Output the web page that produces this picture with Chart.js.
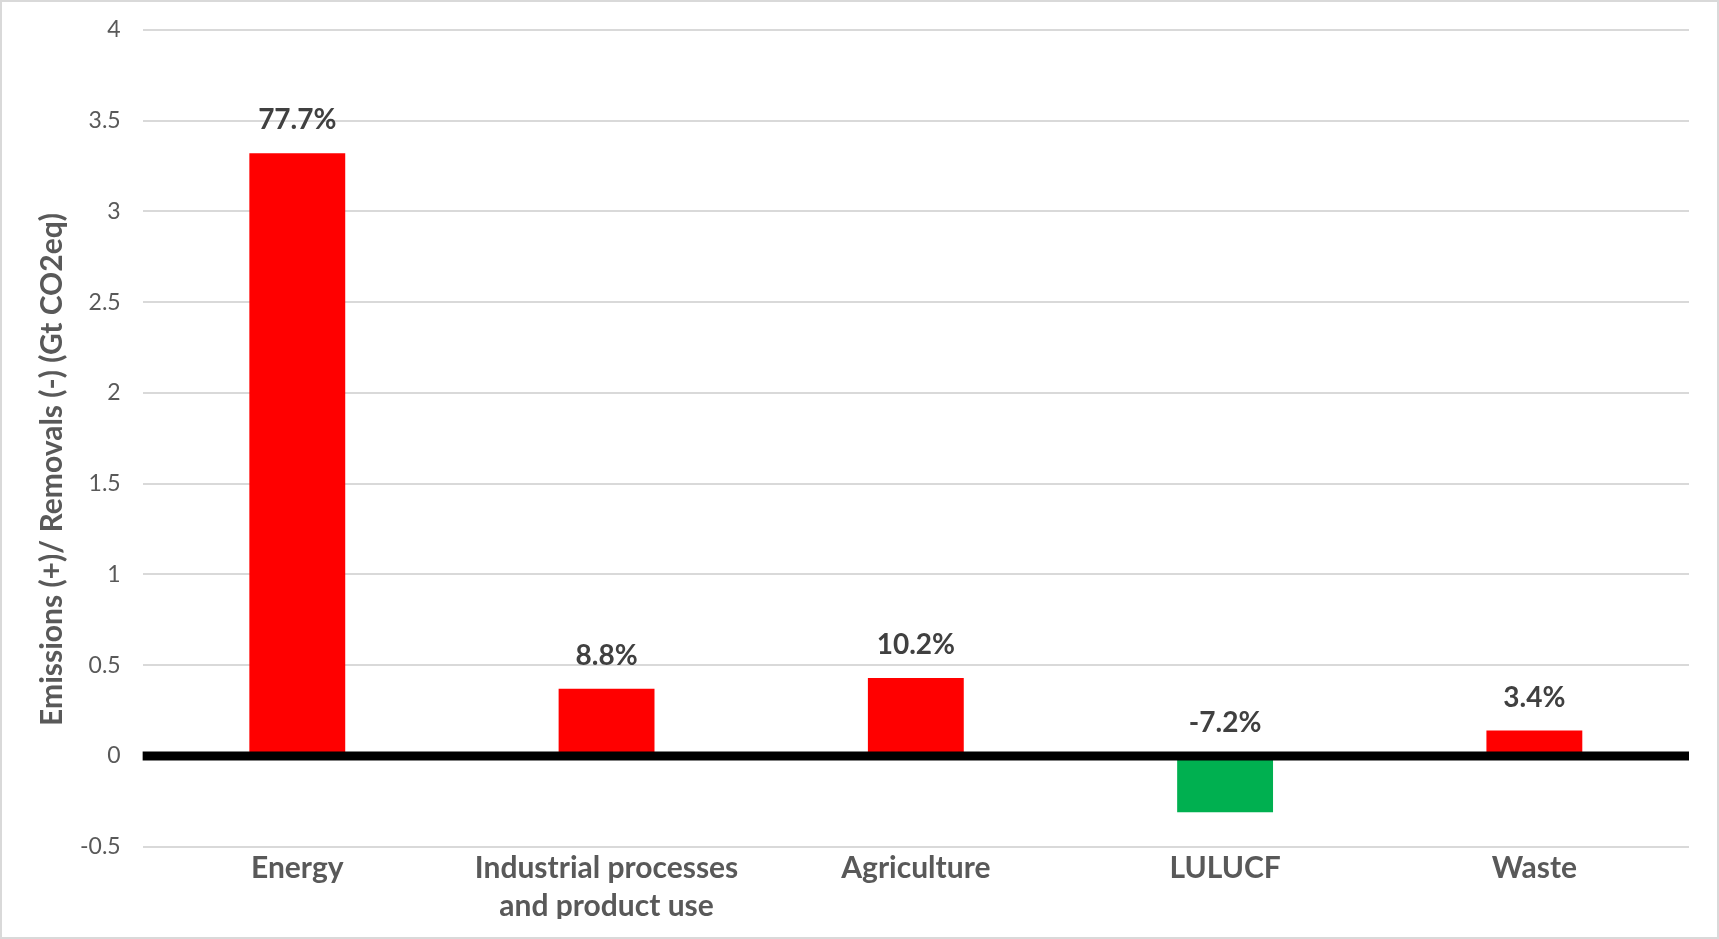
<!DOCTYPE html>
<html>
<head>
<meta charset="utf-8">
<script src="https://cdn.jsdelivr.net/npm/chart.js@4"></script>
<style>
  html, body { margin: 0; padding: 0; background: #fff; }
  #wrap { width: 1719px; height: 939px; box-sizing: border-box; border: 2px solid #d9d9d9; }
</style>
</head>
<body>
<div id="wrap"><canvas id="myChart"></canvas></div>
<script>
// données
var categories = ["Energy", ["Industrial processes", "and product use"], "Agriculture", "LULUCF", "Waste"];
var values = [3.32, 0.37, 0.43, -0.31, 0.14];
var shareLabels = ["77.7%", "8.8%", "10.2%", "-7.2%", "3.4%"];
var barColors = ["#ff0000", "#ff0000", "#ff0000", "#00b050", "#ff0000"];
var yTitle = "Emissions (+)/ Removals (-) (Gt CO2eq)";

var fontFamily = "Lato, 'Liberation Sans', sans-serif";

/**
 * ligne zéro noire + étiquettes au-dessus des barres + titre de l'axe y
 */
var zeroAndLabels = {
    id: 'zeroAndLabels',
    afterDatasetsDraw: function(chart) {
        var ctx = chart.ctx;
        var area = chart.chartArea;
        var y0 = chart.scales.y.getPixelForValue(0);

        // axe zéro épais par-dessus les barres
        ctx.save();
        ctx.strokeStyle = '#000';
        ctx.lineWidth = 9;
        ctx.beginPath();
        ctx.moveTo(area.left, y0);
        ctx.lineTo(area.right, y0);
        ctx.stroke();

        // étiquettes en pourcentage
        ctx.fillStyle = '#404040';
        ctx.font = "bold 28px " + fontFamily;
        ctx.textAlign = 'center';
        ctx.textBaseline = 'middle';
        chart.getDatasetMeta(0).data.forEach(function(bar, i) {
            var top = Math.min(bar.y, y0);
            ctx.fillText(shareLabels[i], bar.x, top - 33);
        });

        // titre vertical, centré sur la hauteur du graphique (comme Excel)
        ctx.fillStyle = '#595959';
        ctx.font = "bold 30px " + fontFamily;
        ctx.translate(50, chart.height / 2);
        ctx.rotate(-Math.PI / 2);
        ctx.fillText(yTitle, 0, 0);
        ctx.restore();
    }
};

var canvas = document.getElementById("myChart");
var ctx = canvas.getContext('2d');

var myChart = new Chart(ctx, {
    type: 'bar',
    data: {
        labels: categories,
        datasets: [{
            data: values,
            backgroundColor: barColors,
            borderWidth: 0,
            categoryPercentage: 1,
            barPercentage: 0.31
        }]
    },
    options: {
        responsive: true,
        maintainAspectRatio: false,
        animation: false,
        layout: { padding: { top: 0, right: 28, bottom: 18, left: 56 } },
        plugins: {
            legend: { display: false },
            tooltip: { enabled: false }
        },
        scales: {
            x: {
                grid: { display: false },
                border: { display: false },
                ticks: {
                    color: '#595959',
                    padding: -6,
                    font: { family: fontFamily, size: 30, weight: 'bold', lineHeight: 1.27 }
                }
            },
            y: {
                min: -0.5,
                max: 4,
                border: { display: false },
                grid: { color: '#d9d9d9', lineWidth: 2, drawTicks: false },
                ticks: {
                    stepSize: 0.5,
                    color: '#595959',
                    padding: 22,
                    // petite hauteur de ligne : le haut du graphique colle au cadre comme dans l'original
                    font: { family: fontFamily, size: 23, lineHeight: 0.5 },
                    callback: function(v) { return String(v); }
                }
            }
        }
    },
    plugins: [zeroAndLabels]
});
</script>
</body>
</html>
